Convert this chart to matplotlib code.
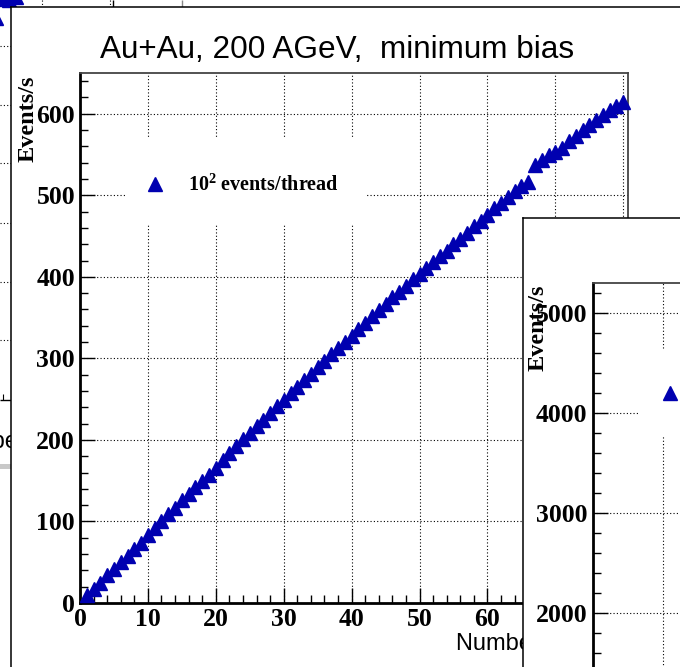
import matplotlib.pyplot as plt
from matplotlib.lines import Line2D
from matplotlib.patches import Rectangle
from matplotlib.ticker import MultipleLocator

plt.rcParams['font.family'] = 'Liberation Serif'
plt.rcParams['font.weight'] = 'bold'
plt.rcParams['axes.labelweight'] = 'bold'

# data
threads = list(range(1, 81))
events_per_s = [10, 17, 25, 34, 42, 50, 58, 66, 74, 84,
                92, 100, 109, 117, 126, 134, 142, 150, 157, 165,
                175, 184, 192, 201, 209, 217, 225, 233, 241, 249,
                257, 265, 273, 281, 289, 297, 305, 313, 320, 328,
                336, 344, 352, 359, 367, 375, 382, 389, 397, 404,
                411, 418, 425, 432, 440, 447, 454, 462, 469, 476,
                484, 491, 498, 505, 512, 516, 537, 543, 549, 553,
                558, 566, 573, 580, 586, 592, 599, 605, 610, 614]
title = "Au+Au, 200 AGeV,  minimum bias"
legend_label = "10$^{\\mathbf{2}}$ events/thread"

W, H = 680, 667
BLUE = '#0000b0'
DOT = (0, (1, 2))
TICK_FS = 18.5
plt.rcParams['mathtext.fontset'] = 'custom'
plt.rcParams['mathtext.bf'] = 'Liberation Serif:bold'
plt.rcParams['mathtext.rm'] = 'Liberation Serif:bold'
plt.rcParams['mathtext.default'] = 'bf'


def rect(l, t, r, b):
    return [l / W, 1 - b / H, (r - l) / W, (b - t) / H]


fig = plt.figure(figsize=(6.8, 6.67), dpi=100)

# windows behind (only small pieces show)
bg = fig.add_axes([0, 0, 1, 1])
bg.set_xlim(0, W)
bg.set_ylim(H, 0)
bg.axis('off')
bg.set_zorder(0)
bg.vlines([42, 110], 0, 7, colors='k', linestyles=DOT, lw=0.8)
bg.vlines([113], 0, 7, colors='k', lw=1)
bg.vlines([182], 0, 7, colors='#888888', lw=1)
bg.hlines([46, 105, 163, 223, 282, 340], 0, 11, colors='k', linestyles=DOT, lw=0.8)
bg.hlines([400], 0, 11, colors='k', lw=1)
bg.vlines([3], 394, 400, colors='k', lw=0.8)
bg.text(-58, 448, "Number", fontfamily='Liberation Sans', fontweight='normal',
        fontsize=17, va='baseline', ha='left')
bg.add_patch(Rectangle((0, 464), 11, 5, color='#c8c8c8', lw=0))
bg.plot([2, 9, 16, -4], [-1, 0, -3, 18], ls='none', marker='^', ms=10,
        color=BLUE, clip_on=False)

# main window
mw = fig.add_axes(rect(11, 7, W + 5, H + 5))
mw.set_zorder(1)
mw.set_xticks([])
mw.set_yticks([])
for s in ['right', 'bottom']:
    mw.spines[s].set_visible(False)
for s in ['left', 'top']:
    mw.spines[s].set_linewidth(1.1)

fig.text(337 / W, 1 - 58 / H, title, ha='center', va='baseline',
         fontfamily='Liberation Sans', fontweight='normal', fontsize=22.7, zorder=5)

ax = fig.add_axes(rect(80, 73, 628, 603))
ax.set_zorder(2)
ax.patch.set_alpha(0)
ax.plot(threads, events_per_s, ls='none', marker='^', ms=10, color=BLUE,
        clip_on=False, zorder=3, label=legend_label)
ax.set_xlim(0, 80.7)
ax.set_ylim(0, 650)
ax.xaxis.set_major_locator(MultipleLocator(10))
ax.xaxis.set_minor_locator(MultipleLocator(2))
ax.yaxis.set_major_locator(MultipleLocator(100))
ax.yaxis.set_minor_locator(MultipleLocator(20))
ax.tick_params(which='major', direction='in', length=11, width=1, labelsize=TICK_FS,
               top=False, right=False)
ax.tick_params(which='minor', direction='in', length=5.5, width=1,
               top=False, right=False)
ax.tick_params(axis='y', pad=3.6)
ax.tick_params(axis='x', pad=3.5)
ax.set_axisbelow(True)
ax.grid(True, which='major', color='k', ls=DOT, lw=0.8)
for s in ['left', 'bottom']:
    ax.spines[s].set_linewidth(2)
for s in ['top', 'right']:
    ax.spines[s].set_linewidth(1.3)
    ax.spines[s].set_color('#444444')

ax.set_xlabel("Number of threads", fontfamily='Liberation Sans', fontweight='normal',
              fontsize=17, ha='left', va='baseline')
ax.xaxis.set_label_coords((456 - 80) / 548, (603 - 650) / 530)
ax.set_ylabel("Events/s", fontsize=17.5, loc='top')
ax.yaxis.set_label_coords((39 - 80) / 548, (603 - 75) / 530)

# legend box hides the grid
ax.add_patch(Rectangle(((127 - 80) / 548, (603 - 225) / 530), 238 / 548, 87 / 530,
                       transform=ax.transAxes, facecolor='white', edgecolor='none', zorder=1))
ax.legend(loc='center left', bbox_to_anchor=((146 - 80) / 548, (603 - 185) / 530),
          frameon=False, borderpad=0, borderaxespad=0, handlelength=0.9,
          handletextpad=1.2, numpoints=1,
          prop=dict(family='Liberation Serif', weight='bold', size=14.5))

# window in front, lower right
fw = fig.add_axes(rect(523, 218, W + 5, H + 5))
fw.set_zorder(3)
fw.set_xticks([])
fw.set_yticks([])
for s in ['right', 'bottom']:
    fw.spines[s].set_visible(False)
for s in ['left', 'top']:
    fw.spines[s].set_linewidth(1.1)

fa = fig.add_axes(rect(593, 283, 760, 700))
fa.set_zorder(4)
fa.patch.set_alpha(0)
fa.set_xlim(0, 167 / 7)
fa.set_ylim(5000 - (700 - 313) * 10, 5000 + 30 * 10)
fa.xaxis.set_major_locator(MultipleLocator(10))
fa.yaxis.set_major_locator(MultipleLocator(1000))
fa.yaxis.set_minor_locator(MultipleLocator(200))
fa.tick_params(which='major', direction='in', length=11, width=1, labelsize=TICK_FS,
               top=False, right=False, bottom=False, labelbottom=False, pad=4.3)
fa.tick_params(which='minor', direction='in', length=5.5, width=1,
               top=False, right=False, bottom=False)
fa.set_axisbelow(True)
fa.grid(True, which='major', color='k', ls=DOT, lw=0.8)
fa.spines['left'].set_linewidth(2)
fa.spines['top'].set_linewidth(1.3)
fa.spines['top'].set_color('#444444')
for s in ['right', 'bottom']:
    fa.spines[s].set_visible(False)
fa.set_ylabel("Events/s", fontsize=17.5, loc='top')
fa.yaxis.set_label_coords((549 - 593) / 167, (700 - 285) / (700 - 283))
fa.add_patch(Rectangle(((640 - 593) / 167, (700 - 437) / 417), 1, 87 / 417,
                       transform=fa.transAxes, facecolor='white', edgecolor='none', zorder=1))
fa.legend([Line2D([], [], ls='none', marker='^', ms=10, color=BLUE)],
          ["10$^{\\mathbf{3}}$ events/thread"], loc='center left',
          bbox_to_anchor=((661 - 593) / 167, (700 - 394) / 417),
          frameon=False, borderpad=0, borderaxespad=0, handlelength=0.9,
          handletextpad=1.2, prop=dict(family='Liberation Serif', weight='bold', size=14.5))

fig.savefig("out.png", dpi=100)
